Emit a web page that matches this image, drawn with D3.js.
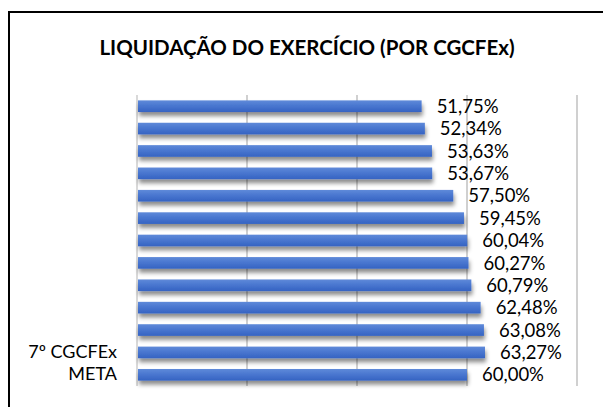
<!DOCTYPE html>
<html>
<head>
<meta charset="utf-8">
<script src="https://cdn.jsdelivr.net/npm/d3@7"></script>
<style>
body{margin:0;background:#fff;}
svg{display:block;}
</style>
</head>
<body>
<div id="chart"></div>
<script>
// labels of the other rows are not shown in the picture
var labels=["","","","","","","","","","","","7º CGCFEx","META"];
var values=[51.75,52.34,53.63,53.67,57.50,59.45,60.04,60.27,60.79,62.48,63.08,63.27,60.00];
var gridTicks=[0,20,40,60,80];
var title="LIQUIDAÇÃO DO EXERCÍCIO (POR CGCFEx)";

var W=603,H=407;
var font="Lato, 'Open Sans', sans-serif";
var svg=d3.select("#chart").append("svg").attr("width",W).attr("height",H);
var defs=svg.append("defs");
var grad=defs.append("linearGradient").attr("id","barGrad")
	.attr("x1",0).attr("y1",0).attr("x2",0).attr("y2",1);
grad.append("stop").attr("offset","0%").attr("stop-color","#5f8ad9");
grad.append("stop").attr("offset","45%").attr("stop-color","#4a77d0");
grad.append("stop").attr("offset","100%").attr("stop-color","#3563c2");
var shadow=defs.append("filter").attr("id","shadow")
	.attr("x","-5%").attr("y","-50%").attr("width","110%").attr("height","250%");
shadow.append("feDropShadow").attr("dx",1).attr("dy",4).attr("stdDeviation",2.2)
	.attr("flood-color","#000").attr("flood-opacity",0.45);

// frame (right and bottom edges fall outside the picture)
svg.append("rect").attr("x",9).attr("y",12).attr("width",W).attr("height",H)
	.attr("fill","none").attr("stroke","#000").attr("stroke-width",2);

svg.append("text").attr("x",307).attr("y",55).attr("text-anchor","middle")
	.style("font-family",font).style("font-weight","bold")
	.style("font-size","20.5px").attr("fill","#000").text(title);

var m={left:137,right:577,top:95,bottom:386};
var x=d3.scaleLinear().domain([0,80]).range([m.left,m.right]);
var y=d3.scaleBand().domain(d3.range(values.length)).range([m.top,m.bottom]).paddingInner(0.48).paddingOuter(0.24);

var grid=svg.append("g");
grid.selectAll("line").data(gridTicks).join("line")
	.attr("x1",d=>x(d)).attr("x2",d=>x(d)).attr("y1",m.top).attr("y2",m.bottom)
	.attr("stroke",(d,i)=>i==0?"#d9d9d9":"#d0d0d0").attr("stroke-width",2);

svg.append("g").selectAll("rect").data(values).join("rect")
	.attr("x",x(0)+1).attr("y",(d,i)=>y(i))
	.attr("width",d=>x(d)-x(0)-1).attr("height",y.bandwidth())
	.attr("fill","url(#barGrad)").attr("filter","url(#shadow)");

var fmt=d3.formatLocale({decimal:",",thousands:".",grouping:[3],currency:["","%"]}).format(".2f");
svg.append("g").selectAll("text").data(values).join("text")
	.attr("x",d=>x(d)+15).attr("y",(d,i)=>y(i)+y.bandwidth()/2)
	.attr("dy","0.36em")
	.style("font-family",font).style("font-size","18.5px")
	.attr("fill","#000").text(d=>fmt(d)+"%");

svg.append("g").selectAll("text").data(labels).join("text")
	.attr("x",117).attr("y",(d,i)=>y(i)+y.bandwidth()/2)
	.attr("dy","0.3em").attr("text-anchor","end")
	.style("font-family",font).style("font-size","18px")
	.attr("fill","#000").text(d=>d);
</script>
</body>
</html>
